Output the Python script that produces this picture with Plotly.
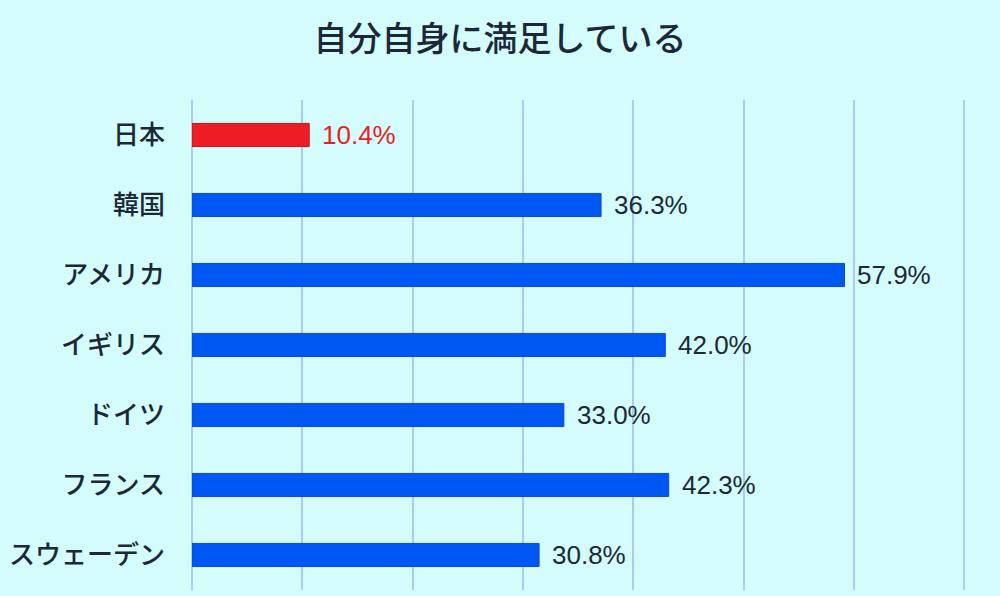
import plotly.graph_objects as go

# 自分自身に満足している (%)
countries = ["日本", "韓国", "アメリカ", "イギリス", "ドイツ", "フランス", "スウェーデン"]
values = [10.4, 36.3, 57.9, 42.0, 33.0, 42.3, 30.8]
labels = ["10.4%", "36.3%", "57.9%", "42.0%", "33.0%", "42.3%", "30.8%"]

bg = "#d4fcfc"
blue = "#0058f2"
red = "#ee1c25"
ink = "#1c2838"

bar_colors = [red if c == "日本" else blue for c in countries]
edge_colors = ["#c8141c" if c == "日本" else "#1a48c8" for c in countries]
text_colors = [red if c == "日本" else ink for c in countries]

fig = go.Figure(go.Bar(
    x=values,
    y=countries,
    orientation="h",
    width=0.33,
    marker=dict(color=bar_colors, line=dict(color=edge_colors, width=1)),
    hoverinfo="skip",
))

# value labels just right of each bar end
for c, v, t, col in zip(countries, values, labels, text_colors):
    fig.add_annotation(
        x=v, y=c, text=t, showarrow=False,
        xanchor="left", yanchor="middle", xshift=11,
        font=dict(family="Liberation Sans, Arial", size=26, color=col),
    )

fig.update_layout(
    width=1000, height=596,
    paper_bgcolor=bg, plot_bgcolor=bg,
    margin=dict(l=192, r=0, t=100, b=6),
    title=dict(
        text="自分自身に満足している",
        x=0.5, xanchor="center", y=0.935, yanchor="middle",
        font=dict(family="Noto Sans CJK JP", size=34, color=ink, weight=500),
    ),
    showlegend=False,
)

# the source grid is a touch tighter than the bar scale
fig.update_xaxes(
    range=[0, 71.7], dtick=9.79, showticklabels=False,
    showgrid=True, gridcolor="#aacdec", gridwidth=2,
    zeroline=True, zerolinecolor="#aacdec", zerolinewidth=2,
    showline=False, fixedrange=True,
)
fig.update_yaxes(
    autorange="reversed", showgrid=False, showline=False,
    ticks="", ticklabelstandoff=26,
    tickfont=dict(family="Noto Sans CJK JP", size=26, color=ink, weight=500),
    fixedrange=True,
)

# drop the default page margin so the chart sits flush in the window
fig.write_html("out.html", config={"displayModeBar": False},
               post_script="document.body.style.margin='0';")
